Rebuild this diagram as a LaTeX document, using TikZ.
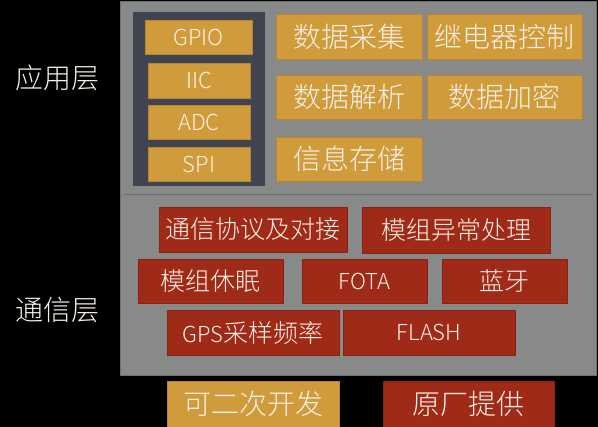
\documentclass[tikz,border=0pt]{standalone}
\usepackage{fontspec}
\setmainfont{Noto Sans CJK SC Light}
\definecolor{bgblack}{HTML}{000000}
\definecolor{panelgrey}{HTML}{878A88}
\definecolor{panelline}{HTML}{6E706F}
\definecolor{darkbox}{HTML}{404450}
\definecolor{goldfill}{HTML}{D09B3B}
\definecolor{goldedge}{HTML}{B88530}
\definecolor{redfill}{HTML}{A02A18}
\definecolor{rededge}{HTML}{8A2214}
\definecolor{txt}{HTML}{F6F0E6}
\tikzset{
  box/.style={rectangle, inner sep=0pt, text=txt, line width=0.6pt, align=center},
  goldbox/.style={box, fill=goldfill, draw=goldedge},
  redbox/.style={box, fill=redfill, draw=rededge},
  layerlabel/.style={text=txt, font=\fontsize{28}{30}\selectfont, inner sep=0pt},
  cjkbig/.style={font=\fontsize{28}{30}\selectfont},
  cjkmid/.style={font=\fontsize{25}{27}\selectfont},
  latin/.style={font=\fontsize{22}{24}\selectfont},
}
\begin{document}
\begin{tikzpicture}[x=1pt,y=-1pt]
\fill[bgblack] (0,0) rectangle (598,427);
\useasboundingbox (0,0) rectangle (598,427);
\node[rectangle, fill=panelgrey, draw=panelline, line width=0.8pt, minimum width=476pt, minimum height=374pt, inner sep=0pt] (panel) at (358,188) {};
\coordinate (sepL) at (124,194.5);
\coordinate (sepR) at (593,194.5);
\draw[panelline, line width=1.4pt] (sepL) -- (sepR);
\node[rectangle, fill=darkbox, inner sep=0pt, minimum width=132pt, minimum height=174pt] (hw) at (199,99) {};
\node[goldbox, latin, minimum width=107pt, minimum height=34pt] (gpio) at (198.5,37) {GPIO};
\node[goldbox, latin, minimum width=102pt, minimum height=35pt] (iic) at (199,80.5) {IIC};
\node[goldbox, latin, minimum width=102pt, minimum height=34pt] (adc) at (199,122) {ADC};
\node[goldbox, latin, minimum width=102pt, minimum height=34pt] (spi) at (199,164) {SPI};
\node[goldbox, cjkbig, minimum width=146pt, minimum height=45pt] (caiji) at (349,36.5) {数据采集};
\node[goldbox, cjkbig, minimum width=155pt, minimum height=45pt] (jidian) at (504.5,36.5) {继电器控制};
\node[goldbox, cjkbig, minimum width=146pt, minimum height=44pt] (jiexi) at (349,97) {数据解析};
\node[goldbox, cjkbig, minimum width=155pt, minimum height=44pt] (jiami) at (504.5,97) {数据加密};
\node[goldbox, cjkbig, minimum width=146pt, minimum height=44pt] (cunchu) at (349,159) {信息存储};
\node[redbox, cjkmid, minimum width=188pt, minimum height=45pt] (xieyi) at (253,229.5) {通信协议及对接};
\node[redbox, cjkmid, minimum width=188pt, minimum height=46pt] (yichang) at (456,230) {模组异常处理};
\node[redbox, cjkmid, minimum width=145pt, minimum height=44pt] (xiumian) at (210.5,281) {模组休眠};
\node[redbox, latin, minimum width=125pt, minimum height=44pt] (fota) at (364.5,281) {FOTA};
\node[redbox, cjkmid, minimum width=125pt, minimum height=44pt] (lanya) at (504.5,281) {蓝牙};
\node[redbox, cjkmid, minimum width=172pt, minimum height=45pt] (gps) at (253,332.5) {\fontsize{22}{24}\selectfont GPS\fontsize{25}{27}\selectfont 采样频率};
\node[redbox, latin, minimum width=172pt, minimum height=45pt] (flash) at (429,332.5) {FLASH};
\node[goldbox, cjkbig, minimum width=172pt, minimum height=46pt] (erci) at (253,404) {可二次开发};
\node[redbox, cjkbig, minimum width=171pt, minimum height=46pt] (yuanchang) at (468.5,404) {原厂提供};
\node[layerlabel] (app) at (58,78) {应用层};
\node[layerlabel] (comm) at (58,310) {通信层};
\end{tikzpicture}
\end{document}
